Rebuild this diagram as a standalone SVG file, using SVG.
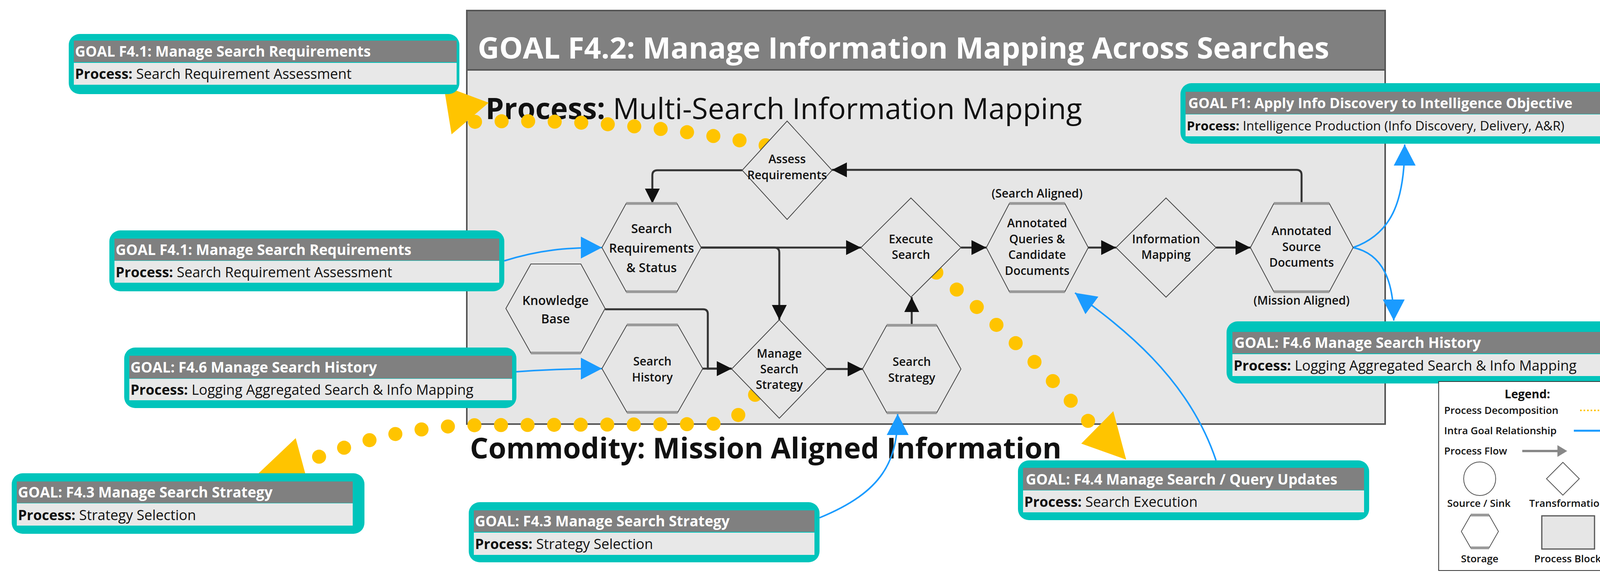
<svg xmlns="http://www.w3.org/2000/svg" width="4238" height="1493" viewBox="0 0 4238 1493">
<style>
text{font-family:"Open Sans","Liberation Sans",sans-serif;fill:#111}
.nl{font-size:30px;font-weight:600;text-anchor:middle}
.nb{font-size:32px;font-weight:600;text-anchor:middle}
.shape{fill:#e6e6e6;stroke:#444;stroke-width:2}
.cap{stroke:#999;stroke-width:7}
.teal{fill:#00c4bb}
.hdr{fill:#808080}
.prc{fill:#e8e8e8}
.ht{font-size:37px;font-weight:700;fill:#fff}
.pt{font-size:36px}
.pt tspan.b{font-weight:700}
.flow{fill:none;stroke:#333;stroke-width:5;marker-end:url(#ab)}
.blue{fill:none;stroke:#1a9bff;stroke-width:4;marker-end:url(#au)}
.dots{fill:none;stroke:#ffc400;stroke-width:36;stroke-linecap:round;stroke-dasharray:0 68}
.yh{fill:#ffc400}
.lg{font-size:26px;font-weight:600}
</style>
<defs>
<marker id="ab" markerUnits="userSpaceOnUse" markerWidth="40" markerHeight="40" refX="38" refY="19" orient="auto"><path d="M0,0 L38,19 L0,38 z" fill="#111"/></marker>
<marker id="au" markerUnits="userSpaceOnUse" markerWidth="56" markerHeight="58" refX="54" refY="28" orient="auto"><path d="M0,0 L54,28 L0,56 z" fill="#1a9bff"/></marker>
</defs>

<g id="block">
<rect x="1195" y="27" width="2351" height="1059" fill="#e6e6e6" stroke="#555" stroke-width="4"/>
<rect x="1195" y="27" width="2351" height="152" fill="#808080" stroke="#555" stroke-width="4"/>
<text x="1223" y="150" style="font-size:76px;font-weight:700;fill:#fff">GOAL F4.2: Manage Information Mapping Across Searches</text>
<text x="1243" y="305" style="font-size:75px"><tspan font-weight="700">Process:</tspan> Multi-Search Information Mapping</text>
<text x="1203" y="1174" style="font-size:74px;font-weight:700">Commodity: Mission Aligned Information</text>
</g>

<g id="connectors">
<path class="flow" d="M1795,634 H2204"/>
<path class="flow" d="M1795,634 H1982 Q1995,634 1995,647 V819"/>
<path class="flow" d="M2460,634 H2525"/>
<path class="flow" d="M2786,634 H2857"/>
<path class="flow" d="M3113,634 H3201"/>
<path class="flow" d="M3332,521 V448 Q3332,435 3319,435 H2130"/>
<path class="flow" d="M1900,436 H1683 Q1670,436 1670,449 V521"/>
<path class="flow" d="M1549,792 H1800 Q1812,792 1812,804 V944 H1873"/>
<path class="flow" d="M1798,944 H1873"/>
<path class="flow" d="M2117,945 H2208"/>
<path class="flow" d="M2334,833 V761"/>
<path class="blue" d="M1291,668 C1380,640 1450,634 1541,634"/>
<path class="blue" d="M1322,952 C1420,945 1480,944 1541,944"/>
<path class="blue" d="M2098,1326 C2260,1260 2298,1180 2298,1060"/>
<path class="blue" d="M3113,1179 C3040,960 2860,830 2752,750"/>
<path class="blue" d="M3464,634 C3560,600 3596,520 3596,370"/>
<path class="blue" d="M3464,634 C3540,650 3568,720 3568,821"/>
<path class="dots" d="M1960,372 Q1600,300 1215,312"/>
<polygon class="yh" points="1136,220 1251,263 1156,344"/>
<path class="dots" d="M1933,1011 Q1900,1080 1818,1086 L1203,1089 Q1000,1095 798,1177"/>
<polygon class="yh" points="757,1122 662,1212 791,1248"/>
<path class="dots" d="M2397,698 Q2620,880 2789,1082"/>
<polygon class="yh" points="2850,1053 2768,1136 2883,1177"/>
</g>

<g id="assess">
<polygon class="shape" points="2015,310 2130,436 2015,562 1900,436"/>
<text class="nl" x="2015" y="418">Assess</text><text class="nl" x="2015" y="459">Requirements</text>
</g>
<g id="searchreq">
<polygon class="shape" points="1541,634 1603,521 1733,521 1795,634 1733,747 1603,747"/>
<line class="cap" x1="1603" y1="521" x2="1733" y2="521"/><line class="cap" x1="1603" y1="747" x2="1733" y2="747"/>
<text class="nb" x="1668" y="597">Search</text><text class="nb" x="1668" y="647">Requirements</text><text class="nb" x="1668" y="697">&amp; Status</text>
</g>
<g id="kb">
<polygon class="shape" points="1295,790 1359,676 1487,676 1549,790 1487,904 1359,904"/>
<line class="cap" x1="1359" y1="904" x2="1487" y2="904"/>
<text class="nb" x="1422" y="781">Knowledge</text><text class="nb" x="1422" y="828">Base</text>
</g>
<g id="history">
<polygon class="shape" points="1541,944 1605,832 1735,832 1799,944 1735,1056 1605,1056"/>
<line class="cap" x1="1605" y1="832" x2="1735" y2="832"/><line class="cap" x1="1605" y1="1056" x2="1735" y2="1056"/>
<text class="nl" x="1670" y="936">Search</text><text class="nl" x="1670" y="977">History</text>
</g>
<g id="manage">
<polygon class="shape" points="1995,819 2117,945 1995,1071 1873,945"/>
<text class="nl" x="1995" y="916">Manage</text><text class="nl" x="1995" y="956">Search</text><text class="nl" x="1995" y="996">Strategy</text>
</g>
<g id="strategy">
<polygon class="shape" points="2208,945 2270,833 2398,833 2460,945 2398,1057 2270,1057"/>
<line class="cap" x1="2270" y1="833" x2="2398" y2="833"/><line class="cap" x1="2270" y1="1057" x2="2398" y2="1057"/>
<text class="nl" x="2334" y="937">Search</text><text class="nl" x="2334" y="978">Strategy</text>
</g>
<g id="execute">
<polygon class="shape" points="2332,507 2460,634 2332,761 2204,634"/>
<text class="nl" x="2332" y="623">Execute</text><text class="nl" x="2332" y="663">Search</text>
</g>
<g id="annq">
<polygon class="shape" points="2525,634 2584,521 2726,521 2786,634 2726,747 2584,747"/>
<line class="cap" x1="2584" y1="521" x2="2726" y2="521"/><line class="cap" x1="2584" y1="747" x2="2726" y2="747"/>
<text class="nl" x="2655" y="506">(Search Aligned)</text>
<text class="nl" x="2655" y="582">Annotated</text><text class="nl" x="2655" y="623">Queries &amp;</text><text class="nl" x="2655" y="663">Candidate</text><text class="nl" x="2655" y="704">Documents</text>
</g>
<g id="infomap">
<polygon class="shape" points="2985,507 3113,634 2985,761 2857,634"/>
<text class="nl" x="2985" y="623">Information</text><text class="nl" x="2985" y="663">Mapping</text>
</g>
<g id="anns">
<polygon class="shape" points="3201,634 3261,521 3403,521 3464,634 3403,747 3261,747"/>
<line class="cap" x1="3261" y1="521" x2="3403" y2="521"/><line class="cap" x1="3261" y1="747" x2="3403" y2="747"/>
<text class="nl" x="3332" y="602">Annotated</text><text class="nl" x="3332" y="643">Source</text><text class="nl" x="3332" y="683">Documents</text>
<text class="nl" x="3332" y="780">(Mission Aligned)</text>
</g>

<g id="g1">
<rect class="teal" x="176" y="87" width="1000" height="154" rx="28"/>
<rect class="hdr" x="189" y="104" width="980" height="55"/><rect class="prc" x="189" y="161" width="980" height="56"/>
<text class="ht" x="192" y="145">GOAL F4.1: Manage Search Requirements</text>
<text class="pt" x="192" y="202"><tspan class="b">Process:</tspan> Search Requirement Assessment</text>
</g>
<g id="g2">
<rect class="teal" x="280" y="590" width="1011" height="156" rx="28"/>
<rect class="hdr" x="293" y="611" width="985" height="56"/><rect class="prc" x="293" y="668" width="985" height="56"/>
<text class="ht" x="296" y="653">GOAL F4.1: Manage Search Requirements</text>
<text class="pt" x="296" y="710"><tspan class="b">Process:</tspan> Search Requirement Assessment</text>
</g>
<g id="g3">
<rect class="teal" x="318" y="890" width="1004" height="155" rx="28"/>
<rect class="hdr" x="331" y="911" width="980" height="58"/><rect class="prc" x="331" y="970" width="980" height="55"/>
<text class="ht" x="334" y="954">GOAL: F4.6 Manage Search History</text>
<text class="pt" x="334" y="1011"><tspan class="b">Process:</tspan> Logging Aggregated Search &amp; Info Mapping</text>
</g>
<g id="g4">
<rect class="teal" x="30" y="1212" width="903" height="155" rx="28"/>
<rect class="hdr" x="43" y="1233" width="860" height="55"/><rect class="prc" x="43" y="1289" width="860" height="57"/>
<text class="ht" x="46" y="1274">GOAL: F4.3 Manage Search Strategy</text>
<text class="pt" x="46" y="1332"><tspan class="b">Process:</tspan> Strategy Selection</text>
</g>
<g id="g5">
<rect class="teal" x="1200" y="1286" width="898" height="154" rx="28"/>
<rect class="hdr" x="1213" y="1307" width="872" height="55"/><rect class="prc" x="1213" y="1364" width="872" height="57"/>
<text class="ht" x="1216" y="1348">GOAL: F4.3 Manage Search Strategy</text>
<text class="pt" x="1216" y="1406"><tspan class="b">Process:</tspan> Strategy Selection</text>
</g>
<g id="g6">
<rect class="teal" x="3022" y="213" width="1189" height="155" rx="28"/>
<rect class="hdr" x="3035" y="235" width="1163" height="57"/><rect class="prc" x="3035" y="293" width="1163" height="56"/>
<text class="ht" x="3042" y="277" style="font-size:36px">GOAL F1: Apply Info Discovery to Intelligence Objective</text>
<text class="pt" x="3038" y="334" style="font-size:33px"><tspan class="b">Process:</tspan> Intelligence Production (Info Discovery, Delivery, A&amp;R)</text>
</g>
<g id="g7">
<rect class="teal" x="3140" y="823" width="1036" height="159" rx="28"/>
<rect class="hdr" x="3155" y="850" width="1008" height="55"/><rect class="prc" x="3155" y="907" width="1008" height="56"/>
<text class="ht" x="3160" y="891">GOAL: F4.6 Manage Search History</text>
<text class="pt" x="3158" y="949"><tspan class="b">Process:</tspan> Logging Aggregated Search &amp; Info Mapping</text>
</g>
<g id="g8">
<rect class="teal" x="2606" y="1179" width="899" height="153" rx="28"/>
<rect class="hdr" x="2619" y="1198" width="873" height="57"/><rect class="prc" x="2619" y="1256" width="873" height="56"/>
<text class="ht" x="2626" y="1241">GOAL: F4.4 Manage Search / Query Updates</text>
<text class="pt" x="2622" y="1298"><tspan class="b">Process:</tspan> Search Execution</text>
</g>

<g id="legend">
<rect x="3683" y="977" width="470" height="484" fill="#fff" stroke="#333" stroke-width="2"/>
<text x="3910" y="1020" style="font-size:30px;font-weight:700;text-anchor:middle">Legend:</text>
<text class="lg" x="3697" y="1060">Process Decomposition</text>
<line x1="4045" y1="1051" x2="4104" y2="1051" stroke="#ffc400" stroke-width="4" stroke-dasharray="4 5"/>
<polygon class="yh" points="4106,1033 4136,1051 4106,1069"/>
<text class="lg" x="3697" y="1112">Intra Goal Relationship</text>
<line x1="4029" y1="1103" x2="4108" y2="1103" stroke="#1a9bff" stroke-width="5"/>
<polygon points="4106,1086 4136,1103 4106,1121" fill="#1a9bff"/>
<text class="lg" x="3697" y="1164">Process Flow</text>
<line x1="3897" y1="1155" x2="3990" y2="1155" stroke="#888" stroke-width="6"/>
<polygon points="3987,1140 4012,1155 3987,1170" fill="#888"/>
<ellipse cx="3788" cy="1226" rx="41" ry="43" fill="#fff" stroke="#555" stroke-width="2"/>
<polygon points="4001,1184 4043,1226 4001,1268 3959,1226" fill="#fff" stroke="#555" stroke-width="2"/>
<text class="lg" x="3786" y="1298" text-anchor="middle">Source / Sink</text>
<text class="lg" x="4013" y="1298" text-anchor="middle">Transformation</text>
<polygon points="3741,1361 3765,1319 3812,1319 3836,1361 3812,1403 3765,1403" fill="#fff" stroke="#555" stroke-width="2"/>
<line class="cap" x1="3765" y1="1319" x2="3812" y2="1319" stroke-width="4"/><line class="cap" x1="3765" y1="1403" x2="3812" y2="1403" stroke-width="4"/>
<rect x="3947" y="1321" width="135" height="85" fill="#e6e6e6" stroke="#555" stroke-width="3"/>
<text class="lg" x="3788" y="1440" text-anchor="middle">Storage</text>
<text class="lg" x="4013" y="1440" text-anchor="middle">Process Block</text>
</g>
</svg>
